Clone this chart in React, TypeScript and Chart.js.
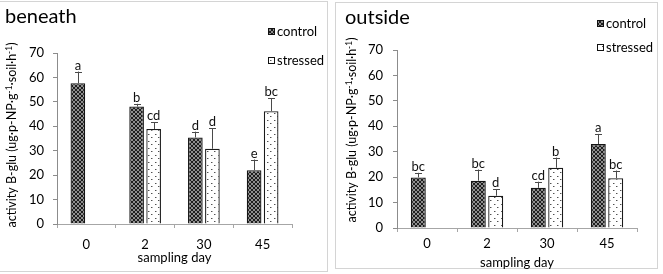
import React, { useEffect, useRef } from 'react';
import { Chart, registerables } from 'chart.js';

Chart.register(...registerables);

const categories = ['0', '2', '30', '45'];
const seriesLabels = ['control', 'stressed'];
const yTicksMax = 70;
const yTickStep = 10;

// beneath panel
const beneathControl = [57.6, 48.1, 35.4, 22.0];
const beneathControlSD = [4.8, 1.1, 2.4, 4.4];
const beneathStressed = [null, 38.9, 30.8, 46.2];
const beneathStressedSD = [null, 2.8, 8.3, 5.2];
const beneathControlLetters = ['a', 'b', 'd', 'e'];
const beneathStressedLetters = [null, 'cd', 'd', 'bc'];

// outside panel
const outsideControl = [19.9, 18.6, 15.8, 33.0];
const outsideControlSD = [1.8, 4.4, 2.4, 4.0];
const outsideStressed = [null, 12.7, 23.7, 19.6];
const outsideStressedSD = [null, 2.5, 4.0, 3.0];
const outsideControlLetters = ['bc', 'bc', 'cd', 'a'];
const outsideStressedLetters = [null, 'd', 'b', 'bc'];

const FONT = 'Lato, "Liberation Sans", sans-serif';

function makeControlPattern(): CanvasPattern | string {
  const c = document.createElement('canvas');
  c.width = 4;
  c.height = 4;
  const g = c.getContext('2d');
  if (!g) return '#444';
  g.fillStyle = '#1e1e1e';
  g.fillRect(0, 0, 4, 4);
  g.fillStyle = '#8e8e8e';
  for (let i = 0; i < 4; i++) {
    g.fillRect(i, i, 1, 1);
    g.fillRect(3 - i, i, 1, 1);
  }
  return g.createPattern(c, 'repeat') || '#444';
}

function makeStressedPattern(): CanvasPattern | string {
  const c = document.createElement('canvas');
  c.width = 7;
  c.height = 7;
  const g = c.getContext('2d');
  if (!g) return '#fff';
  g.fillStyle = '#ffffff';
  g.fillRect(0, 0, 7, 7);
  g.fillStyle = '#505050';
  g.fillRect(1, 1, 1, 1);
  g.fillRect(4, 4, 1, 1);
  g.fillStyle = '#b0b0b0';
  g.fillRect(2, 1, 1, 1);
  g.fillRect(5, 4, 1, 1);
  return g.createPattern(c, 'repeat') || '#fff';
}

type PanelCfg = {
  title: string;
  titleX: number;
  titleY: number;
  border: [number, number, number, number];
  legendBoxX: number;
  legendY: [number, number];
  yTitleX: number;
  yTitleY: number;
  sd: (number | null)[][];
  letters: (string | null)[][];
};

function panelPlugin(cfg: PanelCfg, patterns: (CanvasPattern | string)[]) {
  return {
    id: 'panelDecor',
    beforeDraw(chart: any) {
      const ctx = chart.ctx;
      ctx.save();
      ctx.fillStyle = '#ffffff';
      ctx.fillRect(0, 0, chart.width, chart.height);
      ctx.strokeStyle = '#d4d4d4';
      ctx.lineWidth = 1;
      const [x, y, w, h] = cfg.border;
      ctx.strokeRect(x + 0.5, y + 0.5, w, h);
      ctx.restore();
    },
    afterDatasetsDraw(chart: any) {
      const ctx = chart.ctx;
      const yScale = chart.scales.y;
      ctx.save();
      ctx.strokeStyle = '#4a4a4a';
      ctx.lineWidth = 1;
      ctx.fillStyle = '#111';
      ctx.font = `13px ${FONT}`;
      ctx.textAlign = 'center';
      ctx.textBaseline = 'alphabetic';
      chart.data.datasets.forEach((ds: any, di: number) => {
        const meta = chart.getDatasetMeta(di);
        meta.data.forEach((bar: any, i: number) => {
          const v = ds.data[i];
          if (v === null || v === undefined) return;
          const sd = cfg.sd[di][i];
          let topY = bar.y;
          if (sd !== null && sd !== undefined) {
            topY = yScale.getPixelForValue(v + sd);
            const x = Math.round(bar.x) + 0.5;
            ctx.beginPath();
            ctx.moveTo(x, bar.y);
            ctx.lineTo(x, topY);
            ctx.moveTo(x - 3.5, Math.round(topY) + 0.5);
            ctx.lineTo(x + 3.5, Math.round(topY) + 0.5);
            ctx.stroke();
          }
          const letter = cfg.letters[di][i];
          if (letter) ctx.fillText(letter, bar.x, topY - 2);
        });
      });
      ctx.restore();
    },
    afterDraw(chart: any) {
      const ctx = chart.ctx;
      ctx.save();
      // panel title
      ctx.fillStyle = '#000';
      ctx.font = `20px ${FONT}`;
      ctx.textAlign = 'left';
      ctx.textBaseline = 'middle';
      ctx.fillText(cfg.title, cfg.titleX, cfg.titleY);
      // legend
      ctx.font = `13px ${FONT}`;
      chart.data.datasets.forEach((ds: any, di: number) => {
        const cy = cfg.legendY[di];
        ctx.fillStyle = patterns[di];
        ctx.fillRect(cfg.legendBoxX, cy - 3, 7, 7);
        ctx.strokeStyle = '#111';
        ctx.lineWidth = 1;
        ctx.strokeRect(cfg.legendBoxX + 0.5, cy - 2.5, 6, 6);
        ctx.fillStyle = '#000';
        ctx.textBaseline = 'middle';
        ctx.fillText(ds.label, cfg.legendBoxX + 9, cy + 0.5);
      });
      // y axis title with superscripts
      const parts: [string, boolean][] = [
        ['activity B-glu (ug\u00b7p-NP\u00b7g', false],
        ['-1', true],
        ['\u00b7soil\u00b7h', false],
        ['-1', true],
        [')', false],
      ];
      const normal = `12.5px ${FONT}`;
      const sup = `8.5px ${FONT}`;
      let total = 0;
      parts.forEach(([t, s]) => {
        ctx.font = s ? sup : normal;
        total += ctx.measureText(t).width;
      });
      ctx.translate(cfg.yTitleX, cfg.yTitleY);
      ctx.rotate(-Math.PI / 2);
      ctx.textAlign = 'left';
      ctx.textBaseline = 'alphabetic';
      ctx.fillStyle = '#000';
      let cx = -total / 2;
      parts.forEach(([t, s]) => {
        ctx.font = s ? sup : normal;
        ctx.fillText(t, cx, s ? -0.5 : 4);
        cx += ctx.measureText(t).width;
      });
      ctx.restore();
    },
  };
}

type ChartLayout = {
  padTop: number;
  padRight: number;
  yWidth: number;
  xHeight: number;
  xTickPad: number;
  yTickPad: number;
  xTitlePad: number;
};

function buildChart(
  canvas: HTMLCanvasElement,
  control: (number | null)[],
  stressed: (number | null)[],
  cfg: PanelCfg,
  lay: ChartLayout
) {
  const patterns = [makeControlPattern(), makeStressedPattern()];
  const tickFont = { family: FONT, size: 13 };
  return new Chart(canvas, {
    type: 'bar',
    data: {
      labels: categories,
      datasets: [
        {
          label: seriesLabels[0],
          data: control,
          backgroundColor: patterns[0] as any,
          borderColor: '#151515',
          borderWidth: 1.3,
          categoryPercentage: 0.58,
          barPercentage: 0.86,
        },
        {
          label: seriesLabels[1],
          data: stressed,
          backgroundColor: patterns[1] as any,
          borderColor: '#1a1a1a',
          borderWidth: 1.3,
          categoryPercentage: 0.58,
          barPercentage: 0.86,
        },
      ],
    },
    options: {
      responsive: false,
      animation: false,
      devicePixelRatio: 1,
      layout: { padding: { top: lay.padTop, right: lay.padRight, left: 0, bottom: 0 } },
      plugins: {
        legend: { display: false },
        title: { display: false },
        tooltip: { enabled: false },
      },
      scales: {
        x: {
          offset: true,
          grid: {
            display: true,
            offset: true,
            drawOnChartArea: false,
            drawTicks: true,
            tickLength: 4,
            color: '#a6a6a6',
          },
          border: { display: true, color: '#a6a6a6' },
          ticks: { padding: lay.xTickPad, color: '#000', font: tickFont },
          title: {
            display: true,
            text: 'sampling day',
            color: '#000',
            font: { family: FONT, size: 13 },
            padding: { top: 0, bottom: lay.xTitlePad },
          },
          afterFit: (s: any) => {
            s.height = lay.xHeight;
          },
        },
        y: {
          min: 0,
          max: yTicksMax,
          grid: {
            display: true,
            drawOnChartArea: false,
            drawTicks: true,
            tickLength: 4,
            color: '#8c8c8c',
          },
          border: { display: true, color: '#8c8c8c' },
          ticks: { stepSize: yTickStep, padding: lay.yTickPad, color: '#000', font: tickFont },
          afterFit: (s: any) => {
            s.width = lay.yWidth;
          },
        },
      },
    },
    plugins: [panelPlugin(cfg, patterns) as any],
  });
}

export default function App() {
  const leftRef = useRef<HTMLCanvasElement | null>(null);
  const rightRef = useRef<HTMLCanvasElement | null>(null);

  useEffect(() => {
    if (!leftRef.current || !rightRef.current) return;
    const left = buildChart(
      leftRef.current,
      beneathControl,
      beneathStressed,
      {
        title: 'beneath',
        titleX: 5,
        titleY: 17,
        border: [-1, 1, 328, 270],
        legendBoxX: 268,
        legendY: [31, 60],
        yTitleX: 12,
        yTitleY: 135,
        sd: [beneathControlSD, beneathStressedSD],
        letters: [beneathControlLetters, beneathStressedLetters],
      },
      { padTop: 53, padRight: 39, yWidth: 57, xHeight: 50, xTickPad: 9, yTickPad: 9, xTitlePad: 8 }
    );
    const right = buildChart(
      rightRef.current,
      outsideControl,
      outsideStressed,
      {
        title: 'outside',
        titleX: 13,
        titleY: 18,
        border: [3, 2, 322, 266],
        legendBoxX: 265,
        legendY: [23, 47],
        yTitleX: 20,
        yTitleY: 130,
        sd: [outsideControlSD, outsideStressedSD],
        letters: [outsideControlLetters, outsideStressedLetters],
      },
      { padTop: 50, padRight: 26, yWidth: 65, xHeight: 46, xTickPad: 4, yTickPad: 10, xTitlePad: 3 }
    );
    return () => {
      left.destroy();
      right.destroy();
    };
  }, []);

  return (
    <div style={{ position: 'fixed', left: 0, top: 0, width: 663, height: 274, background: '#fff' }}>
      <canvas
        ref={leftRef}
        width={331}
        height={274}
        style={{ position: 'absolute', left: 0, top: 0, width: 331, height: 274 }}
      />
      <canvas
        ref={rightRef}
        width={331}
        height={274}
        style={{ position: 'absolute', left: 332, top: 0, width: 331, height: 274 }}
      />
    </div>
  );
}
